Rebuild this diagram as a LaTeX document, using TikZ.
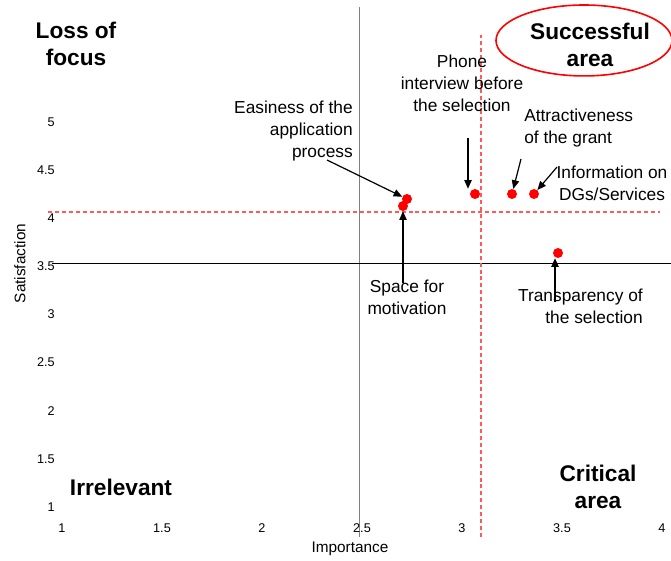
\documentclass[tikz,border=0pt]{standalone}
\usepackage{fontspec}
\setmainfont{Liberation Sans}
\usetikzlibrary{arrows.meta}

\begin{document}
\begin{tikzpicture}[x=150pt, y=72.1875pt,
  tick/.style={font=\fontsize{9.5}{11}\selectfont, inner sep=0pt},
  axtitle/.style={font=\fontsize{11.5}{13}\selectfont, inner sep=0pt},
  lbl/.style={font=\fontsize{13}{16.5}\selectfont, align=center, inner sep=0pt},
  zone/.style={font=\bfseries\fontsize{17}{20.25}\selectfont, align=center, inner sep=0pt},
  pt/.style={circle, fill=red, inner sep=0pt, minimum size=7.5pt},
  arr/.style={-{Triangle[length=6.5pt,width=5.5pt]}, line width=0.9pt},
  target/.style={red!65, line width=0.8pt, dash pattern=on 3pt off 2.2pt}]
\useasboundingbox (0.69,0.4395) rectangle (4.045,6.2675);

\draw[gray, line width=0.6pt] (2.485,0.688) -- (2.485,6.195);
\draw[line width=0.65pt] (0.95,3.535) -- (4.045,3.535);
\draw[target] (3.095,0.688) -- (3.095,5.904);
\draw[target] (0.93,4.065) -- (3.99,4.065);

\foreach \v [count=\i] in {1,1.5,2,2.5,3,3.5,4,4.5,5}
  \node[tick, anchor=east] (yt\i) at (0.965,\v) {\v};
\foreach \v [count=\i] in {1,1.5,2,2.5,3,3.5,4}
  \node[tick] (xt\i) at (\v,0.782) {\v};
\node[axtitle] (xtitle) at (2.44,0.564) {Importance};
\node[axtitle, rotate=90] (ytitle) at (0.79,3.53) {Satisfaction};

\node[zone] (loss) at (1.07,5.81) {Loss of\\focus};
\node[zone] (succ) at (3.64,5.80) {Successful\\area};
\draw[red, line width=1.2pt] (3.61,5.847) ellipse [x radius=66pt, y radius=26.6pt];
\node[zone] (irrel) at (1.295,1.208) {Irrelevant};
\node[zone] (crit) at (3.68,1.208) {Critical\\area};

\node[pt] (space) at (2.705,4.127) {};
\node[pt] (easy) at (2.725,4.2) {};
\node[pt] (phone) at (3.065,4.252) {};
\node[pt] (attr) at (3.25,4.252) {};
\node[pt] (info) at (3.36,4.252) {};
\node[pt] (trans) at (3.48,3.639) {};

\node[lbl] (phoneL) at (3.0,5.405) {Phone\\interview before\\the selection};
\node[lbl, anchor=east, align=right] (easyL) at (2.455,4.906) {Easiness of the\\application\\process};
\node[lbl, anchor=west, align=left] (attrL) at (3.31,4.938) {Attractiveness\\of the grant};
\node[lbl] (infoL) at (3.75,4.366) {Information on\\DGs/Services};
\node[lbl] (spaceL) at (2.725,3.182) {Space for\\motivation};
\node[lbl, anchor=east, align=right] (transL) at (3.905,3.088) {Transparency of\\the selection};

\coordinate (easyT) at (2.325,4.605);
\coordinate (spaceT) at (2.705,3.327);
\coordinate (phoneT) at (3.03,4.834);
\coordinate (attrT) at (3.295,4.616);
\coordinate (infoT) at (3.475,4.532);
\coordinate (transT) at (3.465,3.13);

\draw[arr] (easyT) -- (easy);
\draw[arr] (spaceT) -- (space);
\draw[arr] (phoneT) -- (phoneT |- phone.north);
\draw[arr] (attrT) -- (attr);
\draw[arr] (infoT) -- (info);
\draw[arr] (transT) -- (transT |- trans.south);
\end{tikzpicture}
\end{document}
